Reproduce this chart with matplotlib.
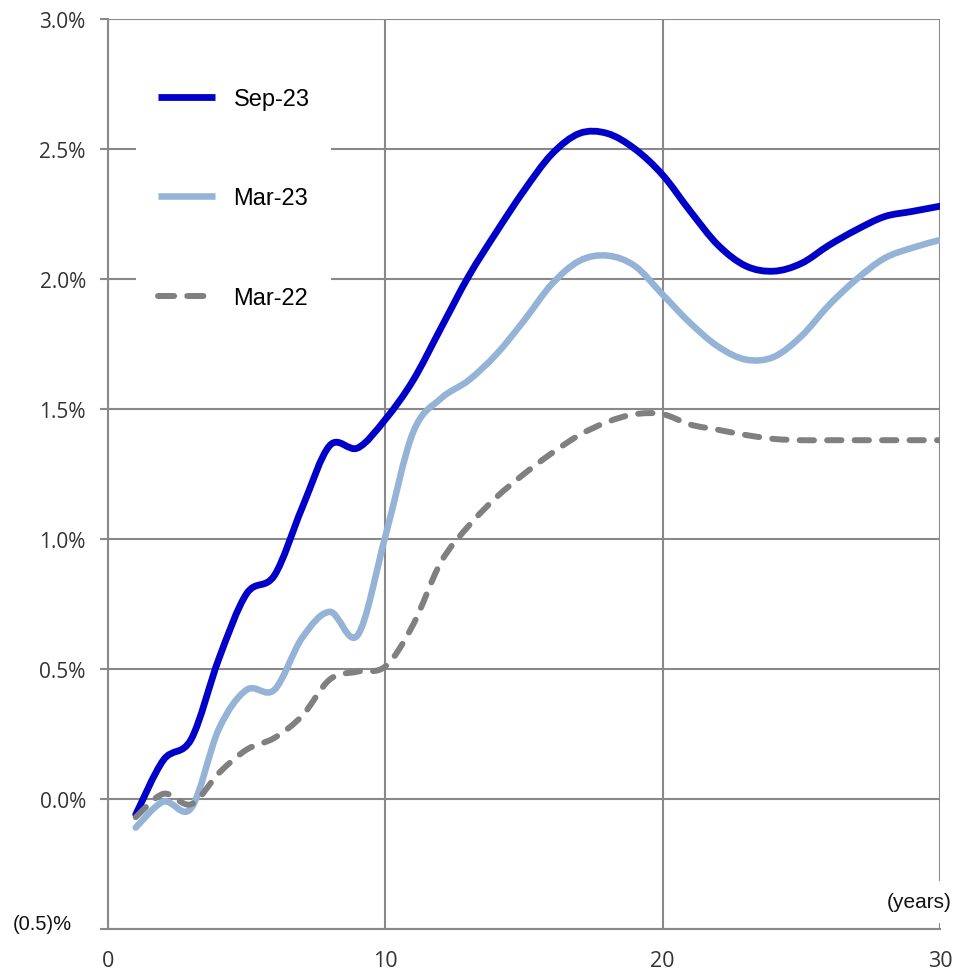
import matplotlib
matplotlib.use("Agg")
import matplotlib.pyplot as plt
from matplotlib.path import Path
from matplotlib.patches import PathPatch
from matplotlib.lines import Line2D

plt.rcParams['font.family'] = ['Liberation Sans', 'DejaVu Sans']

# tenor in years, yields in %
years = list(range(1, 31))
sep23 = [-0.06, 0.15, 0.23, 0.54, 0.79, 0.86, 1.12, 1.36, 1.35, 1.46,
         1.61, 1.81, 2.01, 2.18, 2.34, 2.48, 2.56, 2.56, 2.50, 2.40,
         2.26, 2.13, 2.05, 2.03, 2.06, 2.13, 2.19, 2.24, 2.26, 2.28]
mar23 = [-0.11, -0.01, -0.035, 0.27, 0.42, 0.42, 0.62, 0.72, 0.63, 1.01,
         1.41, 1.54, 1.61, 1.71, 1.84, 1.98, 2.07, 2.09, 2.05, 1.94,
         1.83, 1.74, 1.69, 1.70, 1.78, 1.90, 2.00, 2.08, 2.12, 2.15]
mar22 = [-0.07, 0.02, -0.02, 0.10, 0.19, 0.235, 0.32, 0.46, 0.49, 0.51,
         0.67, 0.91, 1.05, 1.16, 1.25, 1.33, 1.40, 1.45, 1.48, 1.48,
         1.44, 1.42, 1.40, 1.385, 1.38, 1.38, 1.38, 1.38, 1.38, 1.38]
series_labels = ['Sep-23', 'Mar-23', 'Mar-22']

yticks = [-0.5, 0.0, 0.5, 1.0, 1.5, 2.0, 2.5, 3.0]
ytick_labels = ['', '0.0%', '0.5%', '1.0%', '1.5%', '2.0%', '2.5%', '3.0%']
xticks = [0, 10, 20, 30]

GRID = '#898989'
TXT = '#333333'


def smooth_path(xs, ys):
    # excel style smoothed line: bezier segments through every point
    verts = [(xs[0], ys[0])]
    codes = [Path.MOVETO]
    n = len(xs)
    for i in range(n - 1):
        xa, ya = (xs[i - 1], ys[i - 1]) if i > 0 else (xs[i], ys[i])
        xb, yb = (xs[i + 2], ys[i + 2]) if i < n - 2 else (xs[i + 1], ys[i + 1])
        c1 = (xs[i] + (xs[i + 1] - xa) / 6, ys[i] + (ys[i + 1] - ya) / 6)
        c2 = (xs[i + 1] - (xb - xs[i]) / 6, ys[i + 1] - (yb - ys[i]) / 6)
        verts += [c1, c2, (xs[i + 1], ys[i + 1])]
        codes += [Path.CURVE4] * 3
    return Path(verts, codes)


fig = plt.figure(figsize=(9.55, 9.7), dpi=100)
ax = fig.add_axes([108 / 955, 40 / 970, 832 / 955, 910 / 970])

styles = [
    dict(color='#0000C8', lw=4.9, ls='-', leg_ls='-'),
    dict(color='#95B3D7', lw=4.7, ls='-', leg_ls='-'),
    dict(color='#808080', lw=4.3, ls=(0, (2.4, 2.2)), leg_ls=(0, (2.7, 2.2))),
]
handles = []
for ys, st in zip([sep23, mar23, mar22], styles):
    patch = PathPatch(smooth_path(years, ys), fill=False, edgecolor=st['color'],
                      lw=st['lw'], ls=st['ls'], capstyle='round',
                      joinstyle='round', zorder=3)
    ax.add_patch(patch)
    h = Line2D([], [], color=st['color'], lw=st['lw'], ls=st['leg_ls'])
    h.set_dash_capstyle('round')
    h.set_solid_capstyle('butt')
    handles.append(h)

ax.set_xlim(0, 30)
ax.set_ylim(-0.5, 3.0)
ax.set_xticks(xticks)
ax.set_yticks(yticks)
ax.set_yticklabels(ytick_labels, family=['Open Sans', 'DejaVu Sans'])
ax.set_xticklabels([str(v) for v in xticks], family=['Open Sans', 'DejaVu Sans'])
ax.grid(True, color=GRID, lw=1.5, zorder=1)
ax.set_axisbelow(True)

for s in ['top', 'right']:
    ax.spines[s].set_visible(False)
for s in ['left', 'bottom']:
    ax.spines[s].set_color(GRID)
    ax.spines[s].set_linewidth(1.5)

ax.tick_params(axis='y', length=6, width=1.5, color=GRID, pad=10,
               labelsize=15, labelcolor=TXT)
ax.tick_params(axis='x', length=0, pad=15, labelsize=15.5, labelcolor=TXT)

fig.text(72 / 955, 1 - 925 / 970, '(0.5)%', ha='right', va='center',
         fontsize=14.5, color='#111111')
fig.text(952 / 955, 1 - 903 / 970, '(years)', ha='right', va='center',
         fontsize=15, color='#111111',
         bbox=dict(boxstyle='square,pad=0.55', fc='white', ec='none'))

leg = ax.legend(handles, series_labels, loc='upper left',
                bbox_to_anchor=(136 / 955, 1 - 67 / 970),
                bbox_transform=fig.transFigure, fontsize=17,
                handlelength=2.4, handletextpad=0.8, labelspacing=3.28,
                borderpad=0.93, borderaxespad=0, fancybox=False,
                framealpha=1)
leg.get_frame().set_edgecolor('none')
leg.get_frame().set_facecolor('white')

fig.savefig('out.png', dpi=100)
